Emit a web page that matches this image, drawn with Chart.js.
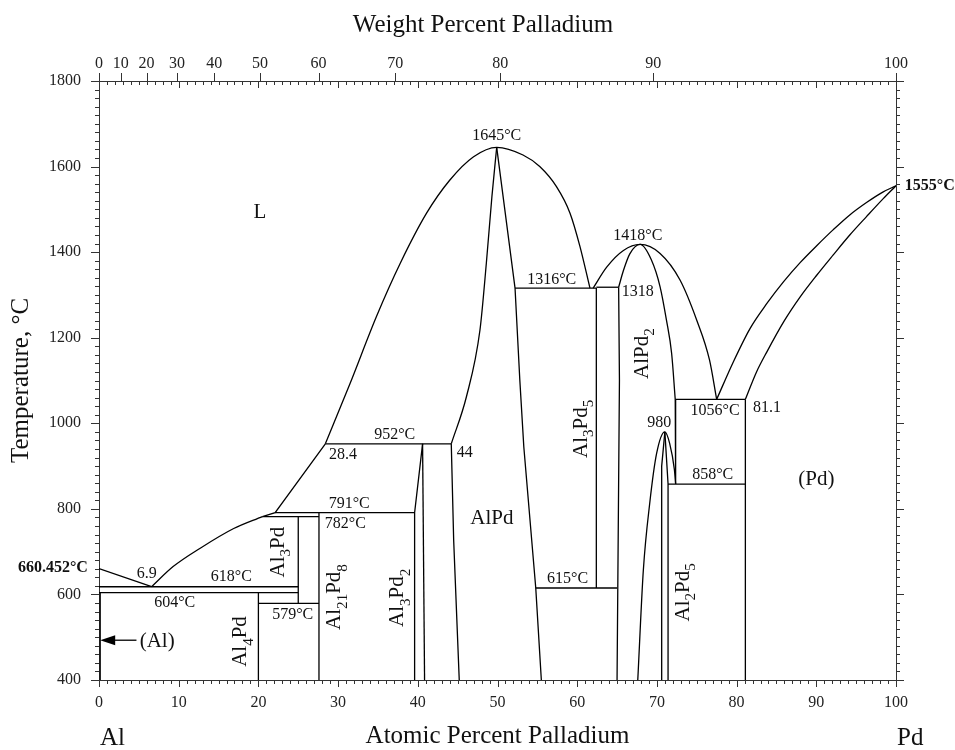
<!DOCTYPE html>
<html><head><meta charset="utf-8">
<script src="https://cdn.jsdelivr.net/npm/chart.js@4.4.1/dist/chart.umd.min.js"></script>
<style>html,body{margin:0;padding:0;background:#fff;}canvas{display:block;}</style>
</head><body>
<canvas id="c" width="955" height="750"></canvas>
<script>
// ---------------- data (atomic % Pd, temperature °C) ----------------
const atomicTicks = [0,10,20,30,40,50,60,70,80,90,100];
const tempTicks = [400,600,800,1000,1200,1400,1600,1800];
const weightTickLabels = [0,10,20,30,40,50,60,70,80,90,100];
const weightTickAtomic = [0,2.74,5.96,9.80,14.46,20.20,27.55,37.17,50.35,69.53,100];

const liqAlMelt     = [[0,660.452],[6.6,618]];
const liqAl3Pd      = [[6.6,618],[9.3,665],[12.7,708],[16.9,754],[20.5,782]];
const liqKink       = [[20.5,782],[22.1,791],[28.4,952]];
const liqAlPd       = [[28.4,952],[31.5,1093],[34.8,1249],[37.8,1374],[41.1,1491],[44.0,1568],[47.0,1623],[49.9,1645],[53.2,1627],[55.3,1600],[57.4,1553],[59.1,1491],[60.35,1413],[61.6,1316]];
const solAlPdLeft   = [[44.2,952],[46.1,1062],[47.8,1218],[48.6,1374],[49.3,1530],[49.9,1645]];
const solAlPdRight  = [[49.9,1645],[52.2,1316],[52.8,1101],[53.3,945],[54.8,615],[55.5,400]];
const alPdLowLeft   = [[44.2,952],[44.5,727],[45.2,400]];
const al3Pd2Left    = [[40.6,952],[39.6,791],[39.6,400]];
const al3Pd2Right   = [[40.6,952],[40.85,400]];
const iso952        = [[28.4,952],[44.2,952]];
const iso791        = [[22.1,791],[39.6,791]];
const iso782        = [[20.5,782],[27.6,782]];
const al21Pd8Line   = [[27.6,791],[27.6,400]];
const al3PdLine     = [[25,782],[25,579]];
const iso618        = [[0,618],[25,618]];
const iso604        = [[0,604],[25,604]];
const al4PdLine     = [[20,604],[20,400]];
const iso579        = [[20,579],[27.6,579]];
const alSolvus      = [[0.15,604],[0.15,400]];
const iso1316       = [[52.2,1316],[62.4,1316]];
const iso1318       = [[62.4,1318],[65.2,1318]];
const al3Pd5Line    = [[62.4,1316],[62.4,615]];
const iso615        = [[54.8,615],[65.0,615]];
const alPd2Left     = [[65.2,1318],[65.3,1100],[65.0,400]];
const liqAlPd2      = [[62.0,1316],[63.7,1365],[65.8,1404],[67.9,1418],[70.4,1397],[72.9,1335],[75.0,1241],[76.6,1148],[77.5,1056]];
const solAlPd2      = [[65.2,1318],[65.8,1357],[66.6,1396],[67.9,1418],[69.3,1382],[70.4,1319],[71.2,1241],[71.85,1163],[72.3,1056]];
const alPd2Solvus   = [[72.3,1056],[72.35,858]];
const iso1056       = [[72.3,1056],[81.1,1056]];
const liqPd         = [[77.5,1056],[79.6,1144],[81.7,1222],[83.8,1280],[85.9,1331],[88.0,1376],[90.05,1415],[92.1,1452],[94.2,1487],[96.3,1516],[98.4,1541],[100,1555]];
const solPd         = [[81.1,1056],[82.5,1120],[83.8,1167],[85.9,1237],[88.0,1296],[90.05,1346],[92.1,1393],[94.2,1440],[96.3,1483],[98.4,1525],[100,1555]];
const pdSolvus      = [[81.1,1056],[81.1,400]];
const iso858        = [[71.4,858],[81.1,858]];
const al2Pd5Dome    = [[67.6,400],[68.3,657],[69.1,813],[69.97,930],[71.0,980],[71.6,953],[72.2,891],[72.35,858]];
const al2Pd5Left    = [[71.0,980],[70.6,900],[70.6,400]];
const al2Pd5Right   = [[71.0,980],[71.4,858],[71.4,400]];

const straightLines = [liqAlMelt, liqKink, solAlPdRight, alPdLowLeft, al3Pd2Left, al3Pd2Right, iso952, iso791, iso782,
  al21Pd8Line, al3PdLine, iso618, iso604, al4PdLine, iso579, alSolvus, iso1316, iso1318, al3Pd5Line, iso615, alPd2Left,
  alPd2Solvus, iso1056, pdSolvus, iso858, al2Pd5Left, al2Pd5Right];
const curvedLines = [liqAl3Pd, liqAlPd, solAlPdLeft, liqAlPd2, solAlPd2, liqPd, solPd, al2Pd5Dome];

// annotations: [text, atomic %, temperature]
const tempNotes = [
  ['1645°C',49.9,1674],['1418°C',67.6,1440],['1316°C',56.8,1337],['1318',67.6,1311],
  ['952°C',37.1,975],['28.4',30.6,928],['44',45.9,933],['791°C',31.4,814],['782°C',30.9,767],
  ['618°C',16.6,643],['604°C',9.5,582],['6.9',6.0,650],['579°C',24.3,554],['615°C',58.8,638],
  ['980',70.3,1004],['1056°C',77.3,1032],['81.1',83.8,1038],['858°C',77.0,881]
];
const phaseNotes = [['L',20.2,1496],['AlPd',49.3,781],['(Pd)',90.0,872]];
const alNote = ['(Al)',5.1,493];
const arrowFrom = [4.7,493], arrowTo = [0.15,493];
const meltNotes = [['660.452°C',-1.4,664,'right'],['1555°C',101.1,1557,'left']];
const formulaNotes = [
  [[['Al',0],['4',1],['Pd',0]],18.0,490],
  [[['Al',0],['3',1],['Pd',0]],22.7,699],
  [[['Al',0],['21',1],['Pd',0],['8',1]],29.8,594],
  [[['Al',0],['3',1],['Pd',0],['2',1]],37.7,592],
  [[['Al',0],['3',1],['Pd',0],['5',1]],60.7,987],
  [[['AlPd',0],['2',1]],68.4,1163],
  [[['Al',0],['2',1],['Pd',0],['5',1]],73.5,605]
];

// ---------------- chart ----------------
const FONT = '"Liberation Serif","Times New Roman",serif';
const toPts = a => a.map(([x,y]) => ({x, y}));
const datasets = [
  ...straightLines.map(a => ({data: toPts(a), tension: 0})),
  ...curvedLines.map(a => ({data: toPts(a), cubicInterpolationMode: 'monotone'}))
].map(d => Object.assign(d, {showLine: true, borderColor: '#000', borderWidth: 1.3, pointRadius: 0, pointHoverRadius: 0, fill: false}));

function drawFormula(ctx, parts, cx, cy, size, rotate) {
  ctx.save();
  ctx.translate(cx, cy);
  if (rotate) ctx.rotate(-Math.PI / 2);
  const sub = size * 0.72;
  let total = 0;
  const w = parts.map(([t, s]) => { ctx.font = (s ? sub : size) + 'px ' + FONT; const m = ctx.measureText(t).width; total += m; return m; });
  let x = -total / 2;
  const base = size * 0.18;
  ctx.textAlign = 'left'; ctx.textBaseline = 'alphabetic'; ctx.fillStyle = '#111';
  parts.forEach(([t, s], i) => {
    ctx.font = (s ? sub : size) + 'px ' + FONT;
    ctx.fillText(t, x, base + (s ? size * 0.3 : 0));
    x += w[i];
  });
  ctx.restore();
}

const diagramPlugin = {
  id: 'diagram',
  afterDraw(chart) {
    const {ctx, chartArea: a} = chart;
    const sx = chart.scales.x, sy = chart.scales.y, sx2 = chart.scales.x2;
    const X = v => sx.getPixelForValue(v), Y = v => sy.getPixelForValue(v);
    ctx.save();
    // tick marks
    ctx.strokeStyle = '#333'; ctx.lineWidth = 1;
    ctx.beginPath();
    for (let v = 0; v <= 100; v++) {
      const px = Math.round(X(v)) + 0.5, major = v % 10 === 0;
      ctx.moveTo(px, a.bottom); ctx.lineTo(px, a.bottom + (major ? 7 : 4));
      ctx.moveTo(px, a.top); ctx.lineTo(px, a.top + (major ? 7 : 4));
    }
    weightTickAtomic.forEach(v => { const px = Math.round(sx2.getPixelForValue(v)) + 0.5; ctx.moveTo(px, a.top); ctx.lineTo(px, a.top - 8); });
    for (let t = 400; t <= 1800; t += 20) {
      const py = Math.round(Y(t)) + 0.5, major = t % 200 === 0;
      ctx.moveTo(a.left, py); ctx.lineTo(a.left - (major ? 8 : 4), py);
      ctx.moveTo(a.right, py); ctx.lineTo(a.right + (major ? 8 : 4), py);
    }
    ctx.stroke();

    // arrow for (Al)
    ctx.strokeStyle = '#000'; ctx.fillStyle = '#000'; ctx.lineWidth = 1.3;
    const ay = Y(arrowFrom[1]), ax0 = X(arrowFrom[0]), ax1 = X(arrowTo[0]);
    ctx.beginPath(); ctx.moveTo(ax0, ay); ctx.lineTo(ax1 + 10, ay); ctx.stroke();
    ctx.beginPath(); ctx.moveTo(ax1, ay); ctx.lineTo(ax1 + 15, ay - 5); ctx.lineTo(ax1 + 15, ay + 5); ctx.closePath(); ctx.fill();

    ctx.fillStyle = '#111';
    // temperature notes
    ctx.font = '16px ' + FONT; ctx.textAlign = 'center'; ctx.textBaseline = 'alphabetic';
    tempNotes.forEach(([t, x, y]) => ctx.fillText(t, X(x), Y(y) + 16 * 0.33));
    // bold melting points
    ctx.font = 'bold 16px ' + FONT;
    meltNotes.forEach(([t, x, y, al]) => { ctx.textAlign = al; ctx.fillText(t, X(x), Y(y) + 16 * 0.33); });
    // phase notes
    ctx.font = '21px ' + FONT; ctx.textAlign = 'center';
    phaseNotes.forEach(([t, x, y]) => ctx.fillText(t, X(x), Y(y) + 21 * 0.33));
    ctx.textAlign = 'left';
    ctx.fillText(alNote[0], X(alNote[1]), Y(alNote[2]) + 21 * 0.33);
    // formulas (rotated)
    formulaNotes.forEach(([parts, x, y]) => drawFormula(ctx, parts, X(x), Y(y), 21, true));

    // end labels and top title
    ctx.font = '25px ' + FONT; ctx.textAlign = 'left'; ctx.textBaseline = 'alphabetic';
    ctx.fillText('Al', X(0) + 1, 745);
    ctx.fillText('Pd', X(100) + 1, 745);
    ctx.textAlign = 'center';
    ctx.fillText('Weight Percent Palladium', 483, 32);
    ctx.restore();
  }
};

const tickFont = {family: FONT, size: 16};
const plain = v => String(v);
new Chart(document.getElementById('c'), {
  type: 'scatter',
  data: {datasets},
  options: {
    responsive: false, animation: false, devicePixelRatio: 1,
    layout: {padding: 0},
    events: [],
    plugins: {legend: {display: false}, tooltip: {enabled: false}},
    scales: {
      x: {
        type: 'linear', position: 'bottom', min: 0, max: 100,
        afterBuildTicks(s) { s.ticks = atomicTicks.map(v => ({value: v})); },
        ticks: {font: tickFont, color: '#222', padding: 13, autoSkip: false, maxRotation: 0, callback: plain},
        grid: {display: false, drawTicks: false},
        border: {color: '#333', width: 1},
        title: {display: true, text: 'Atomic Percent Palladium', font: {family: FONT, size: 25, lineHeight: 1}, color: '#111', padding: {top: 0, bottom: 1}},
        afterFit(s) { s.height = 70; s.paddingLeft = 0; s.paddingRight = 0; }
      },
      x2: {
        type: 'linear', position: 'top', min: 0, max: 100,
        afterBuildTicks(s) { s.ticks = weightTickAtomic.map(v => ({value: v})); },
        ticks: {font: tickFont, color: '#222', padding: 8, autoSkip: false, maxRotation: 0,
                callback: (v, i) => String(weightTickLabels[i])},
        grid: {display: false, drawTicks: false},
        border: {color: '#333', width: 1},
        afterFit(s) { s.height = 81; s.paddingLeft = 0; s.paddingRight = 0; }
      },
      y: {
        type: 'linear', position: 'left', min: 400, max: 1800,
        afterBuildTicks(s) { s.ticks = tempTicks.map(v => ({value: v})); },
        ticks: {font: tickFont, color: '#222', padding: 18, callback: plain},
        grid: {display: false, drawTicks: false},
        border: {color: '#333', width: 1},
        title: {display: true, text: 'Temperature, °C', font: {family: FONT, size: 25, lineHeight: 1}, color: '#111', padding: {top: 8.5, bottom: 0}},
        afterFit(s) { s.width = 99; s.paddingTop = 0; s.paddingBottom = 0; }
      },
      y2: {
        type: 'linear', position: 'right', min: 400, max: 1800,
        ticks: {display: false},
        grid: {display: false, drawTicks: false},
        border: {color: '#333', width: 1},
        afterFit(s) { s.width = 59; s.paddingTop = 0; s.paddingBottom = 0; }
      }
    }
  },
  plugins: [diagramPlugin]
});
</script>
</body></html>
